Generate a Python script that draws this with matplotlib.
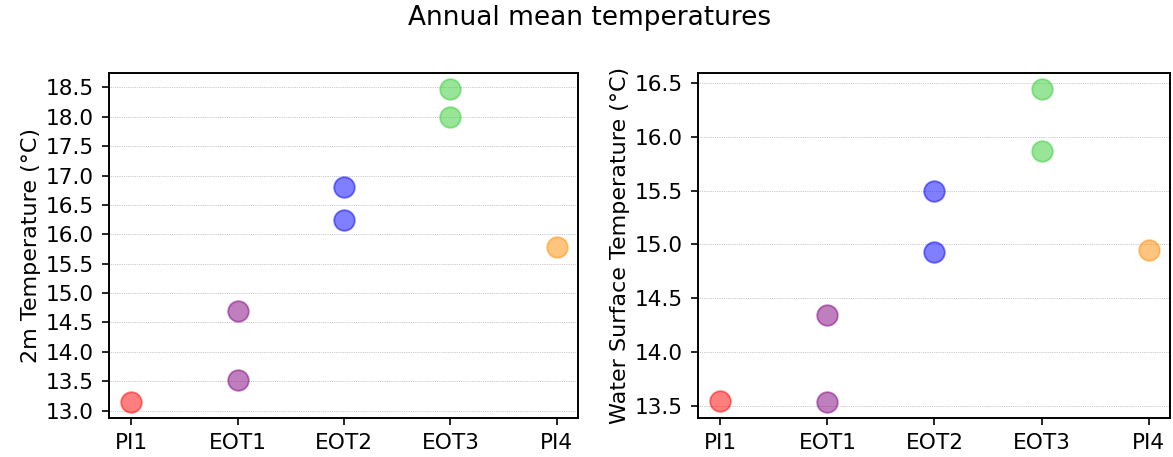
import matplotlib.pyplot as plt

experiments = ["PI1", "EOT1", "EOT2", "EOT3", "PI4"]
colors = ["red", "purple", "blue", "limegreen", "darkorange"]

# two runs per experiment where available
t2m = {
    "PI1": [13.14],
    "EOT1": [14.69, 13.52],
    "EOT2": [16.81, 16.25],
    "EOT3": [18.48, 17.99],
    "PI4": [15.79],
}
sst = {
    "PI1": [13.54],
    "EOT1": [14.34, 13.53],
    "EOT2": [15.50, 14.93],
    "EOT3": [16.45, 15.87],
    "PI4": [14.95],
}

fig = plt.figure(figsize=(11.73, 4.57), dpi=100)
ax1 = fig.add_axes([0.0929, 0.0853, 0.3998, 0.755])
ax2 = fig.add_axes([0.595, 0.0853, 0.4024, 0.755])

for ax, data, ylabel in [(ax1, t2m, "2m Temperature (°C)"),
                         (ax2, sst, "Water Surface Temperature (°C)")]:
    for i, exp in enumerate(experiments):
        vals = data[exp]
        ax.scatter([i] * len(vals), vals, s=220, color=colors[i], alpha=0.5,
                   linewidths=1.3, zorder=3)
    ax.set_xticks(range(len(experiments)))
    ax.set_xticklabels(experiments)
    ax.set_xlim(-0.21, 4.2)
    ax.set_ylabel(ylabel, fontsize=16, labelpad=3)
    ax.tick_params(labelsize=15.6, length=5, width=1.2, pad=6)
    for s in ax.spines.values():
        s.set_linewidth(1.4)
    ax.grid(axis="y", linestyle=":", color="#999999", linewidth=0.5)

ax1.set_yticks([13.0 + 0.5 * k for k in range(12)])
ax2.set_yticks([13.5 + 0.5 * k for k in range(7)])

fig.suptitle("Annual mean temperatures", fontsize=19, x=0.503, y=0.96, va="center")
fig.savefig("out.png", dpi=100)
